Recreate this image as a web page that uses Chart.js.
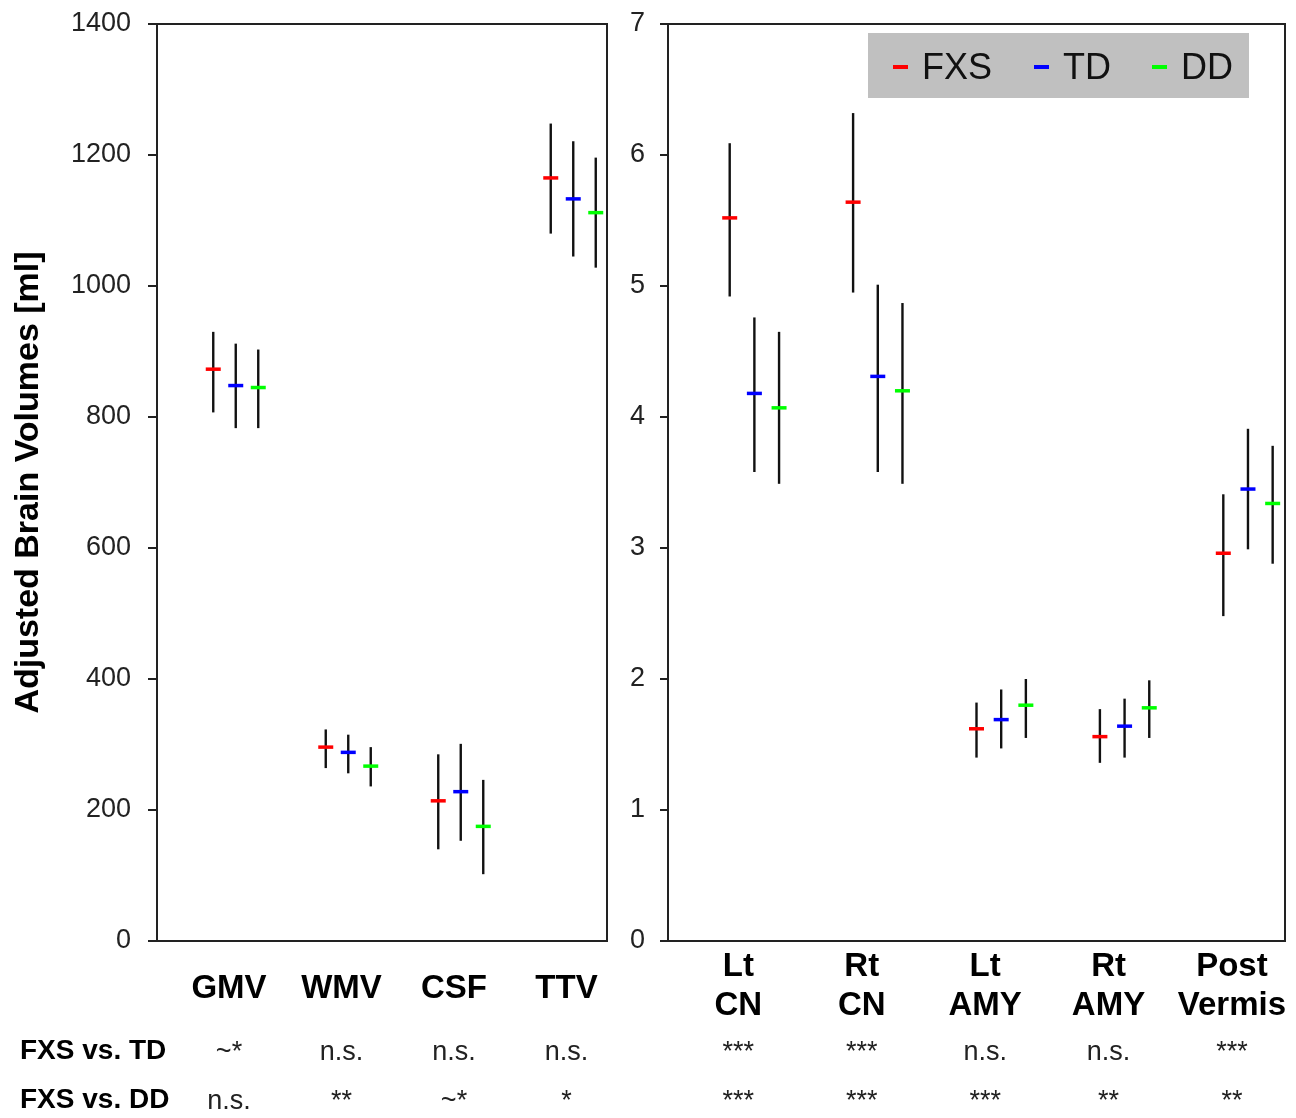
<!DOCTYPE html>
<html>
<head>
<meta charset="utf-8">
<script src="https://cdn.jsdelivr.net/npm/chart.js@4/dist/chart.umd.min.js"></script>
<style>
  html, body { margin: 0; padding: 0; background: #ffffff; }
  #wrap { position: relative; width: 1296px; height: 1118px; overflow: hidden; background: #fff; }
  #c1 { position: absolute; left: 0; top: 0; }
  #c2 { position: absolute; left: 600px; top: 0; }
</style>
</head>
<body>
<div id="wrap">
  <canvas id="c1" width="640" height="1118"></canvas>
  <canvas id="c2" width="696" height="1118"></canvas>
</div>
<script>
// ---------------- DATA ----------------
const seriesNames = ['FXS', 'TD', 'DD'];
const comparisonLabels = ['FXS vs. TD', 'FXS vs. DD'];

// Left panel: global brain volumes (ml)
const globalCategories = ['GMV', 'WMV', 'CSF', 'TTV'];
const globalFXSMean = [873, 296, 214, 1165];
const globalFXSLow  = [807, 264, 140, 1080];
const globalFXSHigh = [930, 323, 285, 1248];
const globalTDMean  = [848, 288, 228, 1133];
const globalTDLow   = [783, 256, 153, 1045];
const globalTDHigh  = [912, 315, 301, 1221];
const globalDDMean  = [845, 267, 175, 1112];
const globalDDLow   = [783, 236, 102, 1028];
const globalDDHigh  = [903, 296, 246, 1196];
const globalSigTD = ['~*', 'n.s.', 'n.s.', 'n.s.'];
const globalSigDD = ['n.s.', '**', '~*', '*'];
const globalYTicks = [0, 200, 400, 600, 800, 1000, 1200, 1400];

// Right panel: regional volumes (ml)
const regionalCategories = [['Lt', 'CN'], ['Rt', 'CN'], ['Lt', 'AMY'], ['Rt', 'AMY'], ['Post', 'Vermis']];
const regionalFXSMean = [5.52, 5.64, 1.62, 1.56, 2.96];
const regionalFXSLow  = [4.92, 4.95, 1.40, 1.36, 2.48];
const regionalFXSHigh = [6.09, 6.32, 1.82, 1.77, 3.41];
const regionalTDMean  = [4.18, 4.31, 1.69, 1.64, 3.45];
const regionalTDLow   = [3.58, 3.58, 1.47, 1.40, 2.99];
const regionalTDHigh  = [4.76, 5.01, 1.92, 1.85, 3.91];
const regionalDDMean  = [4.07, 4.20, 1.80, 1.78, 3.34];
const regionalDDLow   = [3.49, 3.49, 1.55, 1.55, 2.88];
const regionalDDHigh  = [4.65, 4.87, 2.00, 1.99, 3.78];
const regionalSigTD = ['***', '***', 'n.s.', 'n.s.', '***'];
const regionalSigDD = ['***', '***', '***', '**', '**'];
const regionalYTicks = [0, 1, 2, 3, 4, 5, 6, 7];

// ---------------- STYLE ----------------
const FONT = "'Liberation Sans', Arial, Helvetica, sans-serif";
const seriesColors = ['#ff0000', '#0000ff', '#00ff00'];
const groupOffsets = [0, 0.2, 0.4];
Chart.defaults.font.family = FONT;
Chart.defaults.color = '#222';

function buildDatasets(cats, means, lows, highs) {
  const ds = [];
  for (let s = 0; s < seriesNames.length; s++) {
    ds.push({
      type: 'bar',
      label: seriesNames[s] + ' range',
      data: cats.map((c, i) => ({ x: i + 1 + groupOffsets[s], y: [lows[s][i], highs[s][i]] })),
      backgroundColor: '#111',
      borderWidth: 0,
      grouped: false,
      maxBarThickness: 2.4,
      order: 2
    });
    ds.push({
      type: 'scatter',
      label: seriesNames[s],
      data: cats.map((c, i) => ({ x: i + 1 + groupOffsets[s], y: means[s][i] })),
      pointStyle: 'line',
      pointRadius: 7.5,
      pointHoverRadius: 7.5,
      pointBorderWidth: 3.5,
      borderColor: seriesColors[s],
      backgroundColor: seriesColors[s],
      order: 0
    });
  }
  return ds;
}

const framePlugin = {
  id: 'frame',
  beforeDatasetsDraw(chart) {
    const a = chart.chartArea, ctx = chart.ctx;
    ctx.save();
    ctx.strokeStyle = '#222';
    ctx.lineWidth = 2;
    ctx.strokeRect(a.left, a.top, a.right - a.left, a.bottom - a.top);
    ctx.restore();
  }
};

function sigPlugin(sigTD, sigDD, labelOff, drawRowLabels) {
  return {
    id: 'sig',
    afterDraw(chart) {
      const ctx = chart.ctx, xs = chart.scales.x;
      ctx.save();
      ctx.textAlign = 'center';
      ctx.textBaseline = 'middle';
      ctx.fillStyle = '#222';
      ctx.font = '27px ' + FONT;
      for (let i = 0; i < sigTD.length; i++) {
        const x = xs.getPixelForValue(i + 1 + labelOff);
        ctx.fillText(sigTD[i], x, 1053);
        ctx.fillText(sigDD[i], x, 1102);
      }
      if (drawRowLabels) {
        ctx.textAlign = 'left';
        ctx.fillStyle = '#000';
        ctx.font = 'bold 28px ' + FONT;
        ctx.fillText(comparisonLabels[0], 20, 1051);
        ctx.fillText(comparisonLabels[1], 20, 1100);
      }
      ctx.restore();
    }
  };
}

const legendPlugin = {
  id: 'customLegend',
  afterDraw(chart) {
    const ctx = chart.ctx;
    ctx.save();
    ctx.fillStyle = '#c0c0c0';
    ctx.fillRect(268, 33, 381, 65);
    const dashX = [293, 434, 552];
    const textX = [322, 463, 581];
    ctx.font = '36px ' + FONT;
    ctx.textAlign = 'left';
    ctx.textBaseline = 'alphabetic';
    for (let s = 0; s < seriesNames.length; s++) {
      ctx.fillStyle = seriesColors[s];
      ctx.fillRect(dashX[s], 65, 15, 4);
      ctx.fillStyle = '#111';
      ctx.fillText(seriesNames[s], textX[s], 79);
    }
    ctx.restore();
  }
};

function makeChart(canvasId, cfg) {
  const labelOff = cfg.labelOff;
  return new Chart(document.getElementById(canvasId), {
    type: 'bar',
    data: { datasets: buildDatasets(cfg.cats, cfg.means, cfg.lows, cfg.highs) },
    options: {
      responsive: false,
      animation: false,
      devicePixelRatio: 1,
      layout: { padding: { top: 24, right: cfg.padRight, left: 0, bottom: 0 } },
      plugins: { legend: { display: false }, tooltip: { enabled: false } },
      scales: {
        x: {
          type: 'linear',
          min: 0.5,
          max: cfg.cats.length + 0.5,
          offset: false,
          afterBuildTicks(scale) {
            scale.ticks = cfg.cats.map((c, i) => ({ value: i + 1 + labelOff }));
          },
          afterFit(scale) {
            scale.height = 1118 - 941;
            scale.paddingLeft = 0;
            scale.paddingRight = 0;
          },
          ticks: {
            autoSkip: false,
            maxRotation: 0,
            minRotation: 0,
            padding: cfg.xPad,
            color: '#000',
            font: { size: 33, weight: 'bold', family: FONT },
            callback: (v, idx) => cfg.cats[idx]
          },
          grid: { display: false, drawTicks: false, offset: false },
          border: { display: false }
        },
        y: {
          type: 'linear',
          min: cfg.yTicks[0],
          max: cfg.yTicks[cfg.yTicks.length - 1],
          afterBuildTicks(scale) {
            scale.ticks = cfg.yTicks.map(v => ({ value: v }));
          },
          afterFit(scale) {
            scale.width = cfg.yWidth;
            scale.paddingTop = 0;
            scale.paddingBottom = 0;
          },
          ticks: {
            padding: cfg.yPad,
            color: '#222',
            font: { size: 27, family: FONT },
            callback: (v) => String(v)
          },
          grid: { drawOnChartArea: false, drawTicks: true, tickLength: cfg.tickLen, color: '#222', lineWidth: 2 },
          border: { display: false },
          title: cfg.title ? {
            display: true,
            text: cfg.title,
            color: '#000',
            font: { size: 34, weight: 'bold', family: FONT },
            padding: { top: 8, bottom: 0 }
          } : { display: false }
        }
      }
    },
    plugins: cfg.plugins
  });
}

makeChart('c1', {
  cats: globalCategories,
  means: [globalFXSMean, globalTDMean, globalDDMean],
  lows: [globalFXSLow, globalTDLow, globalDDLow],
  highs: [globalFXSHigh, globalTDHigh, globalDDHigh],
  yTicks: globalYTicks,
  labelOff: 0.14,
  padRight: 33,
  xPad: 28,
  yWidth: 157,
  yPad: 17,
  tickLen: 9,
  title: 'Adjusted Brain Volumes [ml]',
  plugins: [framePlugin, sigPlugin(globalSigTD, globalSigDD, 0.14, true)]
});

makeChart('c2', {
  cats: regionalCategories,
  means: [regionalFXSMean, regionalTDMean, regionalDDMean],
  lows: [regionalFXSLow, regionalTDLow, regionalDDLow],
  highs: [regionalFXSHigh, regionalTDHigh, regionalDDHigh],
  yTicks: regionalYTicks,
  labelOff: 0.07,
  padRight: 11,
  xPad: 6,
  yWidth: 68,
  yPad: 15,
  tickLen: 8,
  title: null,
  plugins: [framePlugin, legendPlugin, sigPlugin(regionalSigTD, regionalSigDD, 0.07, false)]
});
</script>
</body>
</html>
